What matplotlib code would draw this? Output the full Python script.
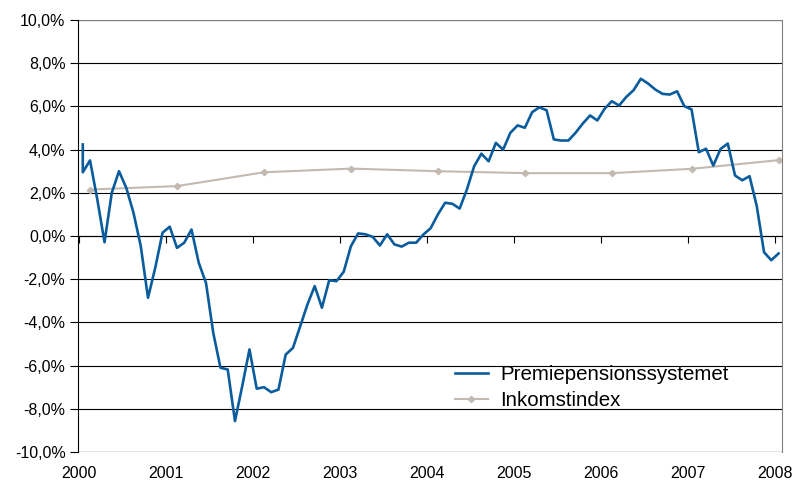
import matplotlib
matplotlib.use("Agg")
import matplotlib.pyplot as plt
import numpy as np
from matplotlib.ticker import FuncFormatter

plt.rcParams['font.family'] = ['Liberation Sans', 'DejaVu Sans']

# Premiepensionssystemet, monthly values (%), starting early 2000
ppm_first = 4.24
ppm = [2.95, 3.50, 1.70, -0.29, 2.00, 3.00, 2.23, 1.07, -0.47, -2.86,
       -1.47, 0.15, 0.43, -0.55, -0.31, 0.30, -1.24, -2.17, -4.48, -6.10,
       -6.18, -8.57, -6.95, -5.25, -7.07, -7.00, -7.23, -7.11, -5.49, -5.18,
       -4.18, -3.17, -2.32, -3.32, -2.05, -2.09, -1.66, -0.47, 0.12, 0.08,
       -0.04, -0.44, 0.08, -0.39, -0.49, -0.31, -0.31, 0.07, 0.36, 1.00,
       1.54, 1.49, 1.27, 2.15, 3.23, 3.81, 3.46, 4.31, 4.00, 4.78,
       5.12, 5.01, 5.73, 5.96, 5.82, 4.47, 4.42, 4.42, 4.78, 5.21,
       5.58, 5.35, 5.89, 6.24, 6.04, 6.44, 6.75, 7.28, 7.06, 6.78,
       6.58, 6.55, 6.70, 6.01, 5.86, 3.88, 4.04, 3.26, 4.03, 4.28,
       2.80, 2.58, 2.77, 1.38, -0.75, -1.12, -0.81]
start_year = 2000.04

# Inkomstindex: month index and value (%)
ink_idx = [1, 13, 25, 37, 49, 61, 73, 84, 96]
ink_val = [2.15, 2.31, 2.95, 3.12, 3.00, 2.91, 2.91, 3.11, 3.51]

years = list(range(2000, 2009))
yticks = list(range(-10, 11, 2))

ppm_x = [start_year] + [start_year + i / 12 for i in range(len(ppm))]
ppm_y = [ppm_first] + ppm
ink_x = [start_year + i / 12 for i in ink_idx]

W, H = 797, 483
fig = plt.figure(figsize=(W / 100, H / 100), dpi=100)
ax = fig.add_axes([78 / W, (H - 452) / H, (782 - 78) / W, (452 - 20) / H])

ax.set_xlim(1999.985, 2008.08)
ax.set_ylim(-10, 10)

for v in yticks:
    if v in (-10, 10):
        continue
    ax.axhline(v, color='black', lw=0.8, zorder=1)
ax.axhline(10, color='#7f7f7f', lw=1.0, zorder=1)
ax.axhline(-10, color='#7f7f7f', lw=1.0, zorder=1)

ax.plot(ppm_x, ppm_y, color='#0a5c9c', lw=1.9, label='Premiepensionssystemet', zorder=3)
ax.plot(ink_x, ink_val, color='#c2bab1', lw=1.5, marker='D', markersize=3.2,
        markerfacecolor='#c2bab1', markeredgecolor='#c2bab1',
        label='Inkomstindex', zorder=2)

# spines
ax.spines['top'].set_visible(False)
ax.spines['right'].set_color('#7f7f7f')
ax.spines['left'].set_color('black')
ax.spines['bottom'].set_position(('data', 0))
ax.spines['bottom'].set_color('black')
ax.spines['bottom'].set_linewidth(0.8)

ax.set_yticks(yticks)
ax.yaxis.set_major_formatter(FuncFormatter(lambda v, p: f"{v:.1f}%".replace('.', ',')))
ax.tick_params(axis='y', direction='out', length=6, width=0.8, labelsize=11.5, pad=3)

ax.set_xticks(years)
ax.tick_params(axis='x', direction='out', length=5, width=0.8, labelbottom=False)

sec = ax.secondary_xaxis('bottom')
sec.set_xticks(years)
sec.set_xticklabels([str(y) for y in years])
sec.tick_params(length=0, labelsize=11.5, pad=10)
sec.spines['bottom'].set_visible(False)

leg = ax.legend(loc='upper left', bbox_to_anchor=((455 - 78) / 704, (452 - 365) / 432),
                frameon=False, fontsize=14.8, handlelength=1.6, handletextpad=0.6,
                labelspacing=0.35, borderaxespad=0, borderpad=0)

fig.savefig('out.png', dpi=100)
